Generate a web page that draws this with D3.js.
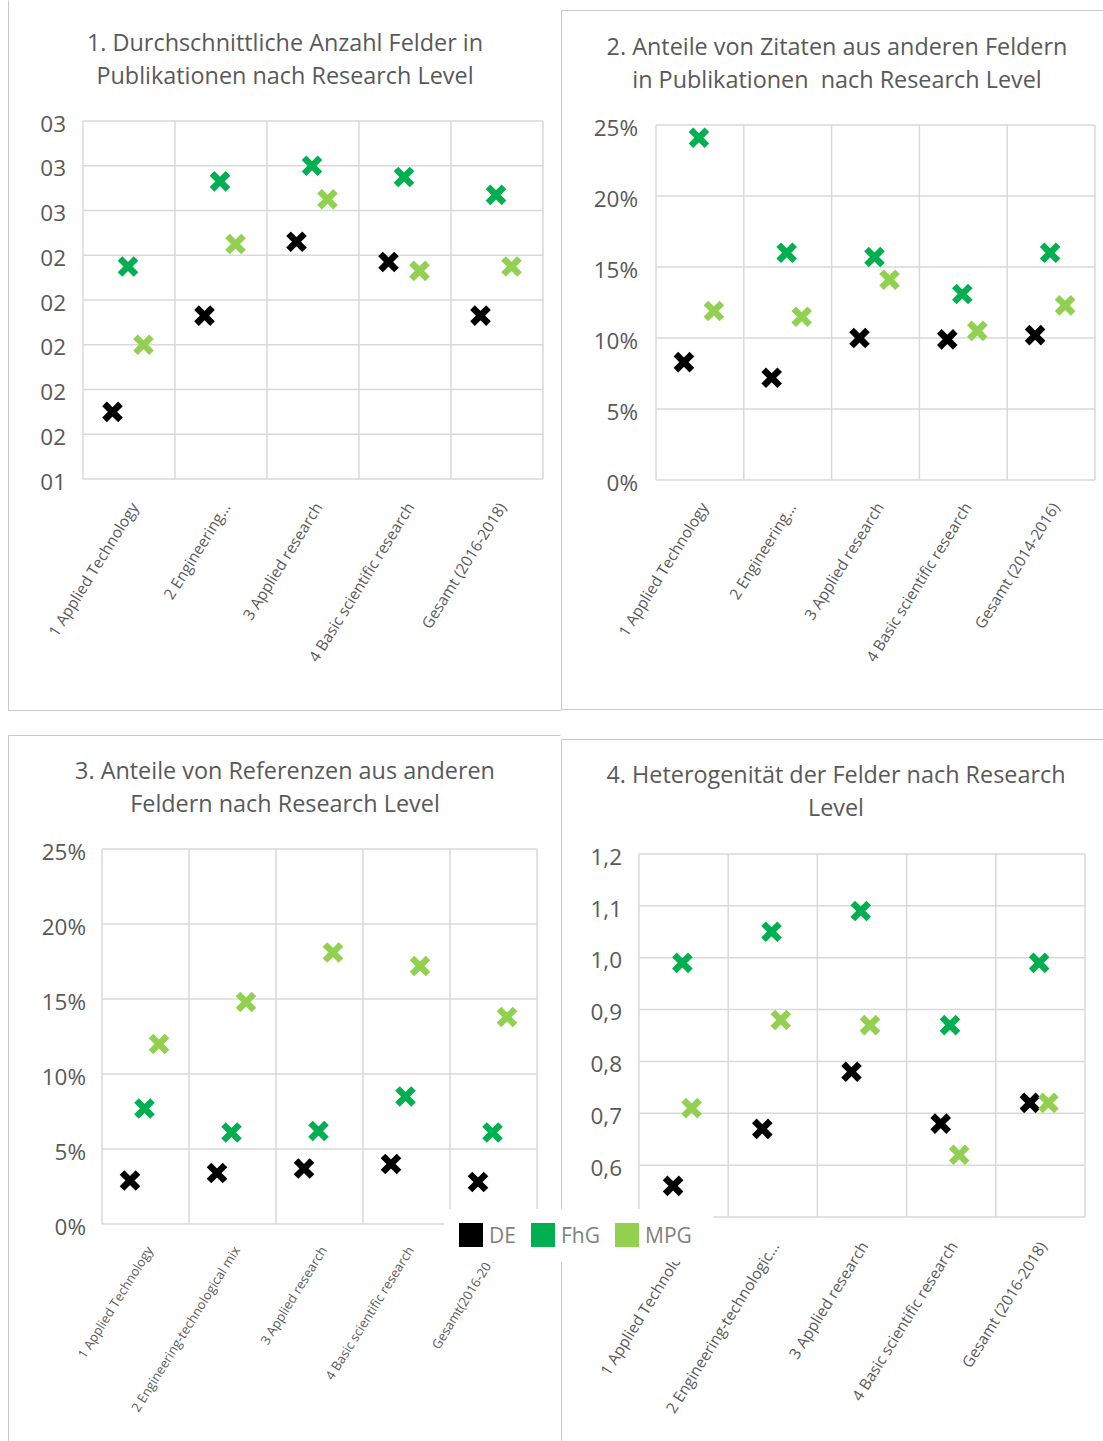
<!DOCTYPE html>
<html><head><meta charset="utf-8">
<script src="https://cdn.jsdelivr.net/npm/d3@7"></script>
<style>body{margin:0;background:#fff}svg{display:block;font-family:"Open Sans",sans-serif}</style>
</head><body><svg id="c" width="1103" height="1441"></svg>
<script>
// ---------- data ----------
const series = ["DE", "FhG", "MPG"];
const seriesColors = ["#000000", "#00b050", "#92d050"];

const cats1 = ["1 Applied Technology", "2 Engineering...", "3 Applied research", "4 Basic scientific research", "Gesamt (2016-2018)"];
const p1DE  = [1.70, 2.13, 2.46, 2.37, 2.13];
const p1FhG = [2.35, 2.73, 2.80, 2.75, 2.67];
const p1MPG = [2.00, 2.45, 2.65, 2.33, 2.35];
const p1Ticks = [1.4, 1.6, 1.8, 2.0, 2.2, 2.4, 2.6, 2.8, 3.0];

const cats2 = ["1 Applied Technology", "2 Engineering...", "3 Applied research", "4 Basic scientific research", "Gesamt (2014-2016)"];
const p2DE  = [8.3, 7.2, 10.0, 9.9, 10.2];
const p2FhG = [24.1, 16.0, 15.7, 13.1, 16.0];
const p2MPG = [11.9, 11.5, 14.1, 10.5, 12.3];
const p2Ticks = [0, 5, 10, 15, 20, 25];

const cats3 = ["1 Applied Technology", "2 Engineering-technological mix", "3 Applied research", "4 Basic scientific research", "Gesamt(2016-2018)"];
const p3DE  = [2.9, 3.4, 3.7, 4.0, 2.8];
const p3FhG = [7.7, 6.1, 6.2, 8.5, 6.1];
const p3MPG = [12.0, 14.8, 18.1, 17.2, 13.8];
const p3Ticks = [0, 5, 10, 15, 20, 25];

const cats4 = ["1 Applied Technology", "2 Engineering-technologic...", "3 Applied research", "4 Basic scientific research", "Gesamt (2016-2018)"];
const p4DE  = [0.56, 0.67, 0.78, 0.68, 0.72];
const p4FhG = [0.99, 1.05, 1.09, 0.87, 0.99];
const p4MPG = [0.71, 0.88, 0.87, 0.62, 0.72];
const p4Ticks = [0.5, 0.6, 0.7, 0.8, 0.9, 1.0, 1.1, 1.2];
const p4TickLabels = [0.6, 0.7, 0.8, 0.9, 1.0, 1.1, 1.2]; // 0,5 is hidden behind the legend

const titles1 = ["1. Durchschnittliche Anzahl Felder in", "Publikationen nach Research Level"];
const titles2 = ["2. Anteile von Zitaten aus anderen Feldern", "in Publikationen  nach Research Level"];
const titles3 = ["3. Anteile von Referenzen aus anderen", "Feldern nach Research Level"];
const titles4 = ["4. Heterogenität der Felder nach Research", "Level"];

// ---------- drawing ----------
const svg = d3.select("#c");
const GRID = "#d9d9d9", TXT = "#595959", BORDER = "#c9c9c9";

const fmt1 = d => d3.format("02.0f")(d);
const fmtPct = d => d + "%";
const fmtComma = d => d3.format(".1f")(d).replace(".", ",");

// legend box region (white, overlaps panels 3 and 4)
const legBox = {x: 444, y: 1209, w: 270, h: 53};
svg.append("defs").append("clipPath").attr("id", "noLegend")
  .append("path").attr("clip-rule", "evenodd")
  .attr("d", `M0,0H1103V1441H0Z M${legBox.x},${legBox.y}h${legBox.w}v${legBox.h}h${-legBox.w}Z`);

// panel borders
const borders = [
  [8, 0, 8, 710], [8, 710, 560, 710],
  [561, 10, 561, 710], [561, 10, 1103, 10], [561, 709, 1103, 709],
  [8, 735, 560, 735], [8, 735, 8, 1441],
  [561, 739, 1103, 739], [561, 739, 561, 1441]
];
svg.append("g").attr("clip-path", "url(#noLegend)").selectAll("line").data(borders).join("line")
  .attr("x1", d => d[0] + 0.5).attr("y1", d => d[1] + 0.5)
  .attr("x2", d => d[2] + 0.5).attr("y2", d => d[3] + 0.5)
  .attr("stroke", BORDER).attr("stroke-width", 1);

function panel(cfg) {
  const g = svg.append("g").attr("clip-path", "url(#noLegend)");
  const x = d3.scaleBand().domain(cfg.cats).range([cfg.left, cfg.right]);
  const inner = d3.scalePoint().domain(series).range(cfg.inner);
  const y = d3.scaleLinear().domain(d3.extent(cfg.ticks)).range([cfg.bottom, cfg.top]);

  // horizontal grid
  g.append("g").selectAll("line").data(cfg.ticks).join("line")
    .attr("x1", cfg.left).attr("x2", cfg.right)
    .attr("y1", d => y(d)).attr("y2", d => y(d))
    .attr("stroke", GRID).attr("stroke-width", 1.5);
  // vertical grid
  const bounds = cfg.cats.map(c => x(c)).concat([cfg.right]);
  g.append("g").selectAll("line").data(bounds).join("line")
    .attr("x1", d => d).attr("x2", d => d)
    .attr("y1", cfg.top).attr("y2", cfg.bottom)
    .attr("stroke", GRID).attr("stroke-width", 1.5);

  // y axis labels
  const ya = g.append("g").attr("transform", `translate(${cfg.left},3)`)
    .call(d3.axisLeft(y).tickValues(cfg.labels || cfg.ticks).tickFormat(cfg.fmt).tickSize(0).tickPadding(cfg.ypad));
  ya.select(".domain").remove();
  ya.selectAll("text").attr("fill", TXT).style("font-size", "22.5px").style("font-family", '"Open Sans",sans-serif');

  // x axis labels
  const xa = g.append("g").attr("transform", `translate(0,${cfg.bottom})`)
    .call(d3.axisBottom(x).tickSize(0));
  xa.select(".domain").remove();
  xa.selectAll("text")
    .attr("x", 0).attr("y", 0).attr("dy", null)
    .attr("text-anchor", "end")
    .attr("transform", `translate(${cfg.lx},${cfg.ly}) rotate(-58)`)
    .attr("fill", TXT).style("font-size", cfg.lfs + "px").style("font-family", '"Open Sans",sans-serif');

  // title
  g.append("g").selectAll("text").data(cfg.title).join("text")
    .attr("x", cfg.tx).attr("y", (d, i) => cfg.ty + i * 33)
    .attr("text-anchor", "middle").attr("fill", TXT)
    .style("white-space", "pre")
    .style("font-size", "23.4px").text(d => d);

  // markers
  const marker = "M-8,-8L8,8M8,-8L-8,8";
  series.forEach((s, si) => {
    const vals = cfg.values[si];
    g.append("g").selectAll("path").data(cfg.cats).join("path")
      .attr("d", marker)
      .attr("transform", (c, i) => `translate(${x(c) + x.bandwidth() / 2 + inner(s)},${y(vals[i])})`)
      .attr("stroke", seriesColors[si]).attr("stroke-width", 6.5).attr("fill", "none");
  });
}

panel({cats: cats1, values: [p1DE, p1FhG, p1MPG], ticks: p1Ticks, fmt: fmt1,
  left: 83, right: 543, top: 121, bottom: 479, inner: [-16.5, 14.5], ypad: 17,
  lx: 10, ly: 28, lfs: 15.5, title: titles1, tx: 285, ty: 51});
panel({cats: cats2, values: [p2DE, p2FhG, p2MPG], ticks: p2Ticks, fmt: fmtPct,
  left: 656, right: 1095, top: 125, bottom: 480, inner: [-16, 14], ypad: 18,
  lx: 9, ly: 27, lfs: 15.5, title: titles2, tx: 837, ty: 55});
panel({cats: cats3, values: [p3DE, p3FhG, p3MPG], ticks: p3Ticks, fmt: fmtPct,
  left: 102, right: 537, top: 849, bottom: 1224, inner: [-15.5, 13.5], ypad: 16,
  lx: 8, ly: 26, lfs: 13, title: titles3, tx: 285, ty: 779});
panel({cats: cats4, values: [p4DE, p4FhG, p4MPG], ticks: p4Ticks, labels: p4TickLabels, fmt: fmtComma,
  left: 639, right: 1085, top: 854, bottom: 1217, inner: [-10.5, 8], ypad: 17,
  lx: 7, ly: 29, lfs: 15.5, title: titles4, tx: 836, ty: 783});

// legend
const lg = svg.append("g");
const legX = [459, 531, 615];
series.forEach((s, i) => {
  lg.append("rect").attr("x", legX[i]).attr("y", 1223).attr("width", 24).attr("height", 24).attr("fill", seriesColors[i]);
  lg.append("text").attr("x", legX[i] + 30).attr("y", 1243).attr("fill", "#7f7f7f")
    .style("font-size", "21px").text(s);
});
</script>
</body></html>
